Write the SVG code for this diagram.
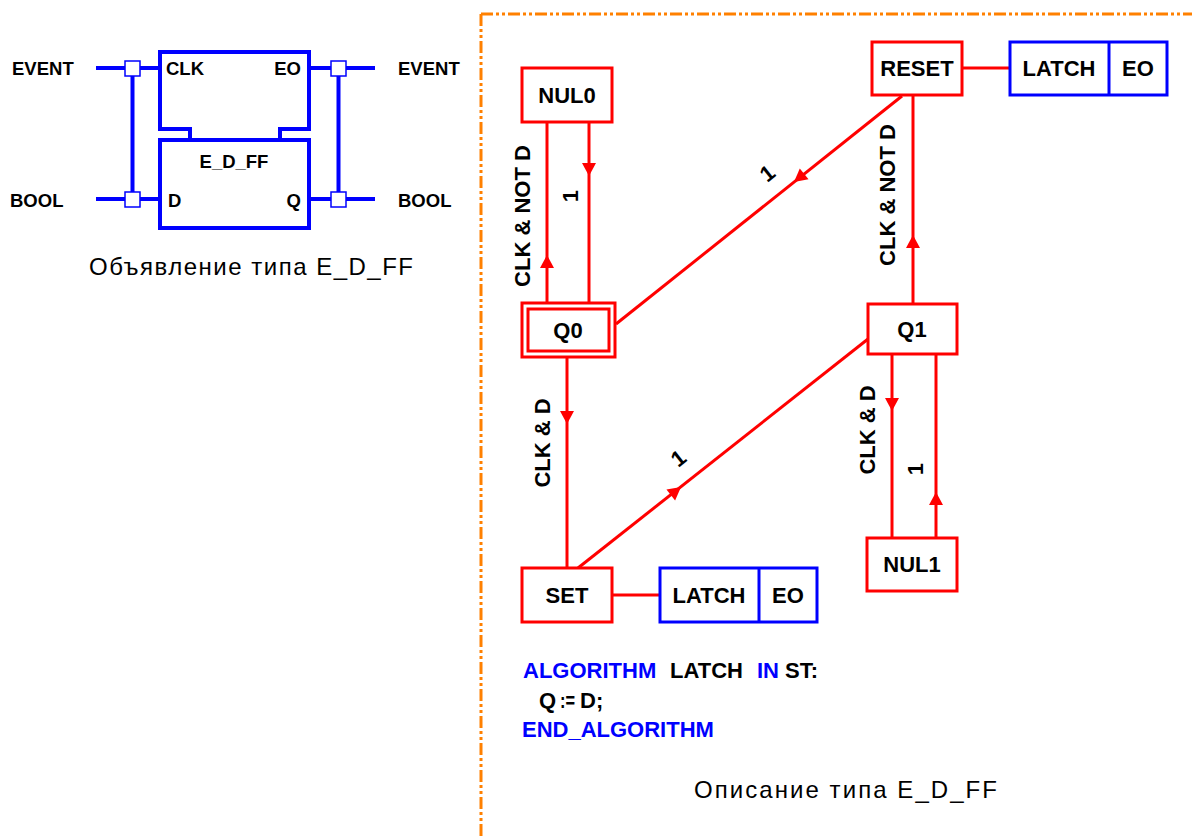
<svg xmlns="http://www.w3.org/2000/svg" width="1192" height="839" viewBox="0 0 1192 839">
<style>
.bl{fill:none;stroke:#0000FF;stroke-width:4}
.bt{fill:none;stroke:#0000FF;stroke-width:3}
.sq{fill:#FFFFFF;stroke:#0000FF;stroke-width:1.5}
.rb{fill:#FFFFFF;stroke:#FF0000;stroke-width:3}
.rl{fill:none;stroke:#FF0000;stroke-width:3}
.lb{font-family:"Liberation Sans",Arial,sans-serif;font-weight:bold;font-size:18.5px;fill:#000000}
.t{font-family:"Liberation Sans",Arial,sans-serif;font-weight:bold;font-size:22px;fill:#000000}
.kw{fill:#0000FF}
.cap{font-family:"Liberation Sans",Arial,sans-serif;font-size:24px;fill:#000000}
.mid{text-anchor:middle}
.end{text-anchor:end}
.frame{fill:none;stroke:#FF8000;stroke-width:3;stroke-dasharray:12 3 3 3 3 3}
</style>
<defs>
<polygon id="ah" points="0,0 -13,-7 -13,7" fill="#FF0000"/>
</defs>

<!-- frame -->
<path class="frame" d="M481,14 H1192"/>
<path class="frame" d="M481,14 V839"/>

<!-- left: interface declaration -->
<g id="decl">
  <path class="bl" d="M190,140 V129 H160 V52 H309 V129 H280 V140"/>
  <rect class="bl" x="160" y="140" width="149" height="88"/>
  <line class="bl" x1="96" y1="68" x2="160" y2="68"/>
  <line class="bl" x1="96" y1="199" x2="160" y2="199"/>
  <line class="bl" x1="309" y1="68" x2="375" y2="68"/>
  <line class="bl" x1="309" y1="199" x2="375" y2="199"/>
  <line class="bl" x1="132.5" y1="68" x2="132.5" y2="199"/>
  <line class="bl" x1="338.5" y1="68" x2="338.5" y2="199"/>
  <rect class="sq" x="125" y="61" width="15" height="15"/>
  <rect class="sq" x="125" y="192" width="15" height="15"/>
  <rect class="sq" x="331" y="61" width="15" height="15"/>
  <rect class="sq" x="331" y="192" width="15" height="15"/>
  <text class="lb" x="12" y="75">EVENT</text>
  <text class="lb" x="10" y="207">BOOL</text>
  <text class="lb" x="166" y="75">CLK</text>
  <text class="lb end" x="301" y="75">EO</text>
  <text class="lb mid" x="234" y="168">E_D_FF</text>
  <text class="lb" x="168" y="207">D</text>
  <text class="lb end" x="301" y="207">Q</text>
  <text class="lb" x="398" y="75">EVENT</text>
  <text class="lb" x="398" y="207">BOOL</text>
  <text class="cap" x="89" y="275" textLength="324" lengthAdjust="spacing">Объявление типа  E_D_FF</text>
</g>

<!-- connectors -->
<g id="connectors">
  <line class="rl" x1="547" y1="122" x2="547" y2="303"/>
  <line class="rl" x1="589" y1="122" x2="589" y2="303"/>
  <line class="rl" x1="616" y1="324" x2="902" y2="96"/>
  <line class="rl" x1="913" y1="96" x2="913" y2="304"/>
  <line class="rl" x1="567" y1="357" x2="567" y2="568"/>
  <line class="rl" x1="578" y1="568" x2="868" y2="339"/>
  <line class="rl" x1="892" y1="354" x2="892" y2="538"/>
  <line class="rl" x1="936" y1="354" x2="936" y2="538"/>
  <line class="rl" x1="962" y1="68" x2="1010" y2="68"/>
  <line class="rl" x1="612" y1="595" x2="660" y2="595"/>
  <use href="#ah" transform="translate(589,176) rotate(90)"/>
  <use href="#ah" transform="translate(547,255) rotate(-90)"/>
  <use href="#ah" transform="translate(794,182) rotate(141.4)"/>
  <use href="#ah" transform="translate(913,235) rotate(-90)"/>
  <use href="#ah" transform="translate(567,424) rotate(90)"/>
  <use href="#ah" transform="translate(681,487) rotate(-38.2)"/>
  <use href="#ah" transform="translate(892,411) rotate(90)"/>
  <use href="#ah" transform="translate(936,492) rotate(-90)"/>
  <text class="t mid" transform="translate(522,216) rotate(-90)" y="8">CLK &amp; NOT D</text>
  <text class="t mid" transform="translate(570,196) rotate(-90)" y="8">1</text>
  <text class="t mid" transform="translate(887,195) rotate(-90)" y="8">CLK &amp; NOT D</text>
  <text class="t mid" transform="translate(767,173) rotate(-38.6)" y="8">1</text>
  <text class="t mid" transform="translate(542,443) rotate(-90)" y="8">CLK &amp; D</text>
  <text class="t mid" transform="translate(678,458) rotate(-38.2)" y="8">1</text>
  <text class="t mid" transform="translate(867,430) rotate(-90)" y="8">CLK &amp; D</text>
  <text class="t mid" transform="translate(915,469) rotate(-90)" y="8">1</text>
</g>

<g id="NUL0">
  <rect class="rb" x="522" y="68" width="90" height="54"/>
  <text class="t mid" x="567" y="103">NUL0</text>
</g>
<g id="Q0">
  <rect class="rb" x="522" y="303" width="93" height="54"/>
  <rect class="rb" x="528" y="309" width="81" height="42"/>
  <text class="t mid" x="568" y="338">Q0</text>
</g>
<g id="RESET">
  <rect class="rb" x="872" y="42" width="90" height="53"/>
  <text class="t mid" x="917" y="76">RESET</text>
</g>
<g id="RESET_action">
  <rect class="bt" x="1010" y="42" width="157" height="53"/>
  <line class="bt" x1="1109" y1="42" x2="1109" y2="95"/>
  <text class="t mid" x="1059" y="76">LATCH</text>
  <text class="t mid" x="1138" y="76">EO</text>
</g>
<g id="Q1">
  <rect class="rb" x="868" y="304" width="89" height="50"/>
  <text class="t mid" x="912" y="337">Q1</text>
</g>
<g id="SET">
  <rect class="rb" x="522" y="568" width="90" height="54"/>
  <text class="t mid" x="567" y="603">SET</text>
</g>
<g id="SET_action">
  <rect class="bt" x="660" y="568" width="157" height="54"/>
  <line class="bt" x1="759" y1="568" x2="759" y2="622"/>
  <text class="t mid" x="709" y="603">LATCH</text>
  <text class="t mid" x="788" y="603">EO</text>
</g>
<g id="NUL1">
  <rect class="rb" x="867" y="538" width="90" height="53"/>
  <text class="t mid" x="912" y="572">NUL1</text>
</g>

<g id="algorithm">
  <text class="t" y="678"><tspan class="kw" x="523">ALGORITHM</tspan><tspan x="670">LATCH</tspan><tspan class="kw" x="757">IN</tspan><tspan x="785">ST:</tspan></text>
  <text class="t" y="708"><tspan x="539">Q</tspan><tspan x="560" textLength="15" lengthAdjust="spacingAndGlyphs">:=</tspan><tspan x="580">D;</tspan></text>
  <text class="t kw" x="522" y="737">END_ALGORITHM</text>
  <text class="cap" x="694" y="798" textLength="303" lengthAdjust="spacing">Описание типа E_D_FF</text>
</g>
</svg>
